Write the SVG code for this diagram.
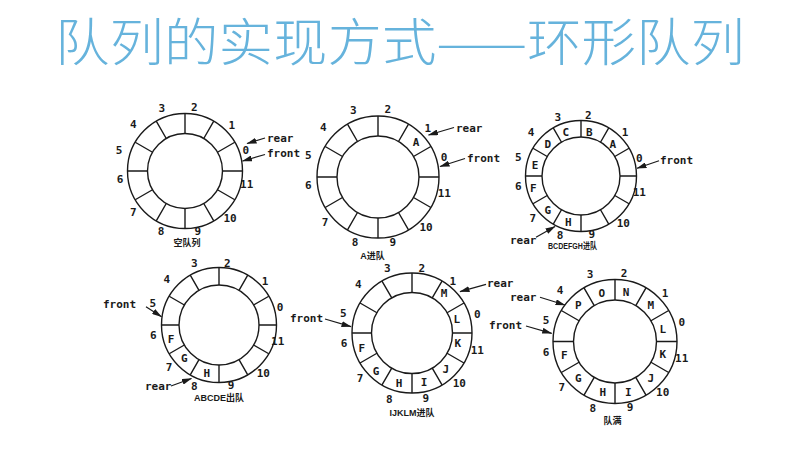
<svg xmlns="http://www.w3.org/2000/svg" width="795" height="451" viewBox="0 0 795 451">
<style>
.ring{fill:none;stroke:#1a1a1a;stroke-width:1.4}
.lb{font-family:"DejaVu Sans Mono","Liberation Mono",monospace;font-size:11px;font-weight:bold;fill:#1a1a1a;text-anchor:middle}
.tx{font-family:"DejaVu Sans Mono","Liberation Mono",monospace;font-size:11px;font-weight:bold;fill:#1a1a1a}
.cap{font-family:"Liberation Sans","Noto Sans CJK SC",sans-serif;font-size:9px;font-weight:bold;fill:#1a1a1a;text-anchor:middle}
.arr{stroke:#1a1a1a;stroke-width:1.2;fill:none;marker-end:url(#ah)}
.title{font-family:"Noto Sans CJK SC","Noto Sans",sans-serif;font-size:51px;font-weight:300;fill:#66b3dc}
</style>
<defs>
<marker id="ah" markerUnits="userSpaceOnUse" markerWidth="10" markerHeight="6" refX="9.5" refY="3" orient="auto">
<path d="M0,0 L10,3 L0,6 z" fill="#1a1a1a"/>
</marker>
</defs>
<rect width="795" height="451" fill="#ffffff"/>
<text class="title" x="55" y="61" textLength="690" lengthAdjust="spacingAndGlyphs">队列的实现方式——环形队列</text>

<g id="ring1">
<g class="ring" transform="translate(185,171)">
<circle r="57.5"/><circle r="37.5"/>
<path d="M37.5,0L57.5,0M32.48,-18.75L49.8,-28.75M18.75,-32.48L28.75,-49.8M0,-37.5L0,-57.5M-18.75,-32.48L-28.75,-49.8M-32.48,-18.75L-49.8,-28.75M-37.5,0L-57.5,0M-32.48,18.75L-49.8,28.75M-18.75,32.48L-28.75,49.8M0,37.5L0,57.5M18.75,32.48L28.75,49.8M32.48,18.75L49.8,28.75"/>
</g>
<text class="lb" x="245.7" y="154">0</text><text class="lb" x="231.7" y="129">1</text><text class="lb" x="194.3" y="110.7">2</text><text class="lb" x="161.7" y="111.7">3</text><text class="lb" x="133.3" y="128.3">4</text><text class="lb" x="119" y="154">5</text><text class="lb" x="120" y="183">6</text><text class="lb" x="133.3" y="215.7">7</text><text class="lb" x="161" y="235.2">8</text><text class="lb" x="197.7" y="234.5">9</text><text class="lb" x="230" y="221.7">10</text><text class="lb" x="246.7" y="188.3">11</text>
<text class="tx" x="267" y="141.7">rear</text>
<text class="tx" x="267" y="157.3">front</text>
<text class="cap" x="187" y="245.5">空队列</text>
</g>

<g id="ring2">
<g class="ring" transform="translate(378,177)">
<circle r="61"/><circle r="41"/>
<path d="M41,0L61,0M35.51,-20.5L52.83,-30.5M20.5,-35.51L30.5,-52.83M0,-41L0,-61M-20.5,-35.51L-30.5,-52.83M-35.51,-20.5L-52.83,-30.5M-41,0L-61,0M-35.51,20.5L-52.83,30.5M-20.5,35.51L-30.5,52.83M0,41L0,61M20.5,35.51L30.5,52.83M35.51,20.5L52.83,30.5"/>
</g>
<text class="lb" x="444" y="160.7">0</text><text class="lb" x="427.7" y="132.3">1</text><text class="lb" x="387.7" y="113">2</text><text class="lb" x="353.3" y="114">3</text><text class="lb" x="323.3" y="130.7">4</text><text class="lb" x="308.3" y="159">5</text><text class="lb" x="308.3" y="189">6</text><text class="lb" x="325" y="225.7">7</text><text class="lb" x="355" y="245.7">8</text><text class="lb" x="392.7" y="245.7">9</text><text class="lb" x="426" y="230.7">10</text><text class="lb" x="444.3" y="197.3">11</text>
<text class="lb" x="416" y="145.7">A</text>
<text class="tx" x="456" y="131.5">rear</text>
<text class="tx" x="467" y="162.3">front</text>
<text class="cap" x="372.5" y="259">A进队</text>
</g>

<g id="ring3">
<g class="ring" transform="translate(581,176)">
<circle r="55.5"/><circle r="39"/>
<path d="M39,0L55.5,0M33.77,-19.5L48.06,-27.75M19.5,-33.77L27.75,-48.06M0,-39L0,-55.5M-19.5,-33.77L-27.75,-48.06M-33.77,-19.5L-48.06,-27.75M-39,0L-55.5,0M-33.77,19.5L-48.06,27.75M-19.5,33.77L-27.75,48.06M0,39L0,55.5M19.5,33.77L27.75,48.06M33.77,19.5L48.06,27.75"/>
</g>
<text class="lb" x="639.3" y="162.3">0</text><text class="lb" x="625" y="136.3">1</text><text class="lb" x="588.3" y="119">2</text><text class="lb" x="557.7" y="121.3">3</text><text class="lb" x="531" y="136.3">4</text><text class="lb" x="518.3" y="161.3">5</text><text class="lb" x="518.3" y="190">6</text><text class="lb" x="532.7" y="222.3">7</text><text class="lb" x="560" y="239">8</text><text class="lb" x="591.7" y="238">9</text><text class="lb" x="623.3" y="226.7">10</text><text class="lb" x="639.3" y="195.7">11</text>
<text class="lb" x="612.7" y="148">A</text><text class="lb" x="589.3" y="136.3">B</text><text class="lb" x="565.7" y="136.3">C</text><text class="lb" x="547.7" y="148">D</text><text class="lb" x="535" y="169">E</text><text class="lb" x="533.3" y="192.3">F</text><text class="lb" x="547.7" y="214">G</text><text class="lb" x="568.3" y="225.7">H</text>
<text class="tx" x="660" y="164">front</text>
<text class="tx" x="510" y="244">rear</text>
<text class="cap" x="572.5" y="249" font-size="8.5" textLength="49" lengthAdjust="spacingAndGlyphs">BCDEFGH进队</text>
</g>

<g id="ring4">
<g class="ring" transform="translate(219,325)">
<circle r="57.5"/><circle r="40"/>
<path d="M40,0L57.5,0M34.64,-20L49.8,-28.75M20,-34.64L28.75,-49.8M0,-40L0,-57.5M-20,-34.64L-28.75,-49.8M-34.64,-20L-49.8,-28.75M-40,0L-57.5,0M-34.64,20L-49.8,28.75M-20,34.64L-28.75,49.8M0,40L0,57.5M20,34.64L28.75,49.8M34.64,20L49.8,28.75"/>
</g>
<text class="lb" x="280" y="311.3">0</text><text class="lb" x="265" y="284.7">1</text><text class="lb" x="227.3" y="266.7">2</text><text class="lb" x="194.3" y="267.3">3</text><text class="lb" x="166.7" y="283.3">4</text><text class="lb" x="152.7" y="307.3">5</text><text class="lb" x="153.3" y="339">6</text><text class="lb" x="169" y="371.3">7</text><text class="lb" x="194.3" y="389.5">8</text><text class="lb" x="231" y="389">9</text><text class="lb" x="263.3" y="376.7">10</text><text class="lb" x="277.7" y="344.7">11</text>
<text class="lb" x="171" y="343.3">F</text><text class="lb" x="184.3" y="362.3">G</text><text class="lb" x="206.7" y="377.3">H</text>
<text class="tx" x="103" y="308.3">front</text>
<text class="tx" x="145" y="390">rear</text>
<text class="cap" x="219" y="401">ABCDE出队</text>
</g>

<g id="ring5">
<g class="ring" transform="translate(412,333)">
<circle r="60"/><circle r="40.5"/>
<path d="M40.5,0L60,0M35.07,-20.25L51.96,-30M20.25,-35.07L30,-51.96M0,-40.5L0,-60M-20.25,-35.07L-30,-51.96M-35.07,-20.25L-51.96,-30M-40.5,0L-60,0M-35.07,20.25L-51.96,30M-20.25,35.07L-30,51.96M0,40.5L0,60M20.25,35.07L30,51.96M35.07,20.25L51.96,30"/>
</g>
<text class="lb" x="477.3" y="318.3">0</text><text class="lb" x="452.7" y="285">1</text><text class="lb" x="421.7" y="271.7">2</text><text class="lb" x="387.3" y="272.3">3</text><text class="lb" x="358.3" y="288.3">4</text><text class="lb" x="343.3" y="317.3">5</text><text class="lb" x="344" y="347.3">6</text><text class="lb" x="360" y="382.3">7</text><text class="lb" x="389.3" y="403">8</text><text class="lb" x="425.7" y="401.7">9</text><text class="lb" x="459.3" y="386.7">10</text><text class="lb" x="477.3" y="354">11</text>
<text class="lb" x="444" y="297.3">M</text><text class="lb" x="456.7" y="323">L</text><text class="lb" x="457.7" y="347.3">K</text><text class="lb" x="445.7" y="373.3">J</text><text class="lb" x="424" y="385.7">I</text><text class="lb" x="399" y="387.3">H</text><text class="lb" x="376" y="375">G</text><text class="lb" x="361.7" y="351.7">F</text>
<text class="tx" x="487" y="287.3">rear</text>
<text class="tx" x="290" y="322.3">front</text>
<text class="cap" x="412" y="416">IJKLM进队</text>
</g>

<g id="ring6">
<g class="ring" transform="translate(615,341.5)">
<circle r="62"/><circle r="41.5"/>
<path d="M41.5,0L62,0M35.94,-20.75L53.69,-31M20.75,-35.94L31,-53.69M0,-41.5L0,-62M-20.75,-35.94L-31,-53.69M-35.94,-20.75L-53.69,-31M-41.5,0L-62,0M-35.94,20.75L-53.69,31M-20.75,35.94L-31,53.69M0,41.5L0,62M20.75,35.94L31,53.69M35.94,20.75L53.69,31"/>
</g>
<text class="lb" x="681.7" y="325.7">0</text><text class="lb" x="665" y="297.3">1</text><text class="lb" x="624" y="277.3">2</text><text class="lb" x="590" y="278.3">3</text><text class="lb" x="560" y="294">4</text><text class="lb" x="546" y="324">5</text><text class="lb" x="546" y="355.7">6</text><text class="lb" x="561.7" y="390.7">7</text><text class="lb" x="592.7" y="411.7">8</text><text class="lb" x="630" y="411.3">9</text><text class="lb" x="662.7" y="395.7">10</text><text class="lb" x="681.7" y="361.7">11</text>
<text class="lb" x="578.3" y="309">P</text><text class="lb" x="601.7" y="297.3">O</text><text class="lb" x="626" y="296.3">N</text><text class="lb" x="650.7" y="309">M</text><text class="lb" x="662.7" y="333">L</text><text class="lb" x="662.7" y="358.3">K</text><text class="lb" x="650.7" y="381.7">J</text><text class="lb" x="628.3" y="395.7">I</text><text class="lb" x="602.7" y="395.7">H</text><text class="lb" x="578.3" y="382.3">G</text><text class="lb" x="564.3" y="359">F</text>
<text class="tx" x="510" y="300.7">rear</text>
<text class="tx" x="489" y="329">front</text>
<text class="cap" x="612.5" y="424">队满</text>
</g>

<g id="connectors">
<line class="arr" x1="265" y1="138" x2="247" y2="143.5"/>
<line class="arr" x1="265" y1="154.5" x2="242.5" y2="161"/>
<line class="arr" x1="454" y1="127.5" x2="428.5" y2="135"/>
<line class="arr" x1="465" y1="158.5" x2="440" y2="166.5"/>
<line class="arr" x1="659" y1="160.7" x2="637" y2="168.3"/>
<line class="arr" x1="536" y1="237.3" x2="555" y2="226.5"/>
<line class="arr" x1="146" y1="306.7" x2="161.5" y2="316.7"/>
<line class="arr" x1="171" y1="386" x2="191.5" y2="378.5"/>
<line class="arr" x1="486" y1="284.3" x2="460" y2="291.7"/>
<line class="arr" x1="325" y1="319" x2="351" y2="326.7"/>
<line class="arr" x1="540" y1="297.3" x2="565" y2="305"/>
<line class="arr" x1="526" y1="326" x2="551.7" y2="333.3"/>
</g>
</svg>
